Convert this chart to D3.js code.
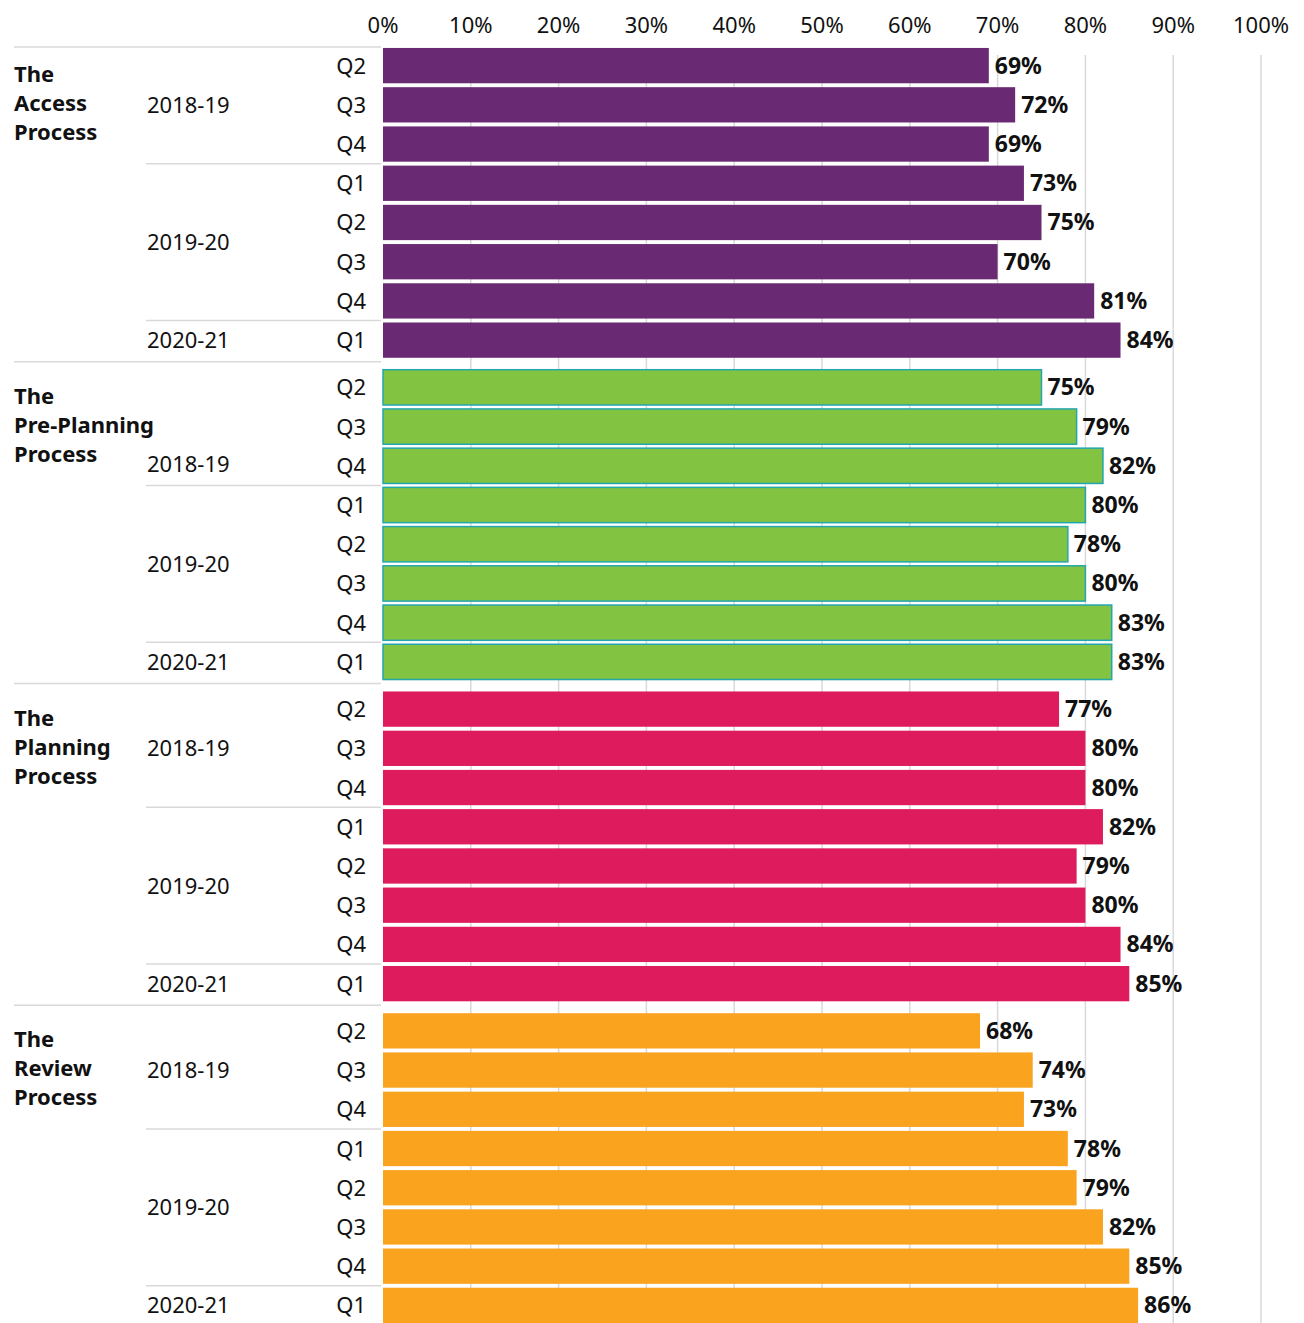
<!DOCTYPE html>
<html><head><meta charset="utf-8">
<script src="https://cdn.jsdelivr.net/npm/d3@7"></script>
<style>
body{margin:0;background:#fff;}
text{font-family:"Noto Sans",sans-serif;fill:#111;}
</style></head>
<body><svg id="c" width="1304" height="1323"></svg>
<script>
const processes = ["The Access Process","The Pre-Planning Process","The Planning Process","The Review Process"];
const processLines = [["The","Access","Process"],["The","Pre-Planning","Process"],["The","Planning","Process"],["The","Review","Process"]];
const quarters = ["Q2","Q3","Q4","Q1","Q2","Q3","Q4","Q1"];
const years = ["2018-19","2019-20","2020-21"];
const yearOfRow = [0,0,0,1,1,1,1,2];
const accessValues = [69,72,69,73,75,70,81,84];
const prePlanningValues = [75,79,82,80,78,80,83,83];
const planningValues = [77,80,80,82,79,80,84,85];
const reviewValues = [68,74,73,78,79,82,85,86];
const seriesValues = [accessValues,prePlanningValues,planningValues,reviewValues];
const colors = ["#6a2a73","#82c341","#de1b5d","#f9a31f"];
const strokes = [null,"#23a7ae",null,null];
const ticks = [0,10,20,30,40,50,60,70,80,90,100];

const svg = d3.select("#c");
const x = d3.scaleLinear().domain([0,100]).range([383,1261]);
const gy = d3.scaleBand().domain(processes).range([40,1327]);

// gridlines
svg.append("g").selectAll("line").data(ticks.slice(1)).join("line")
  .attr("x1",d=>x(d)).attr("x2",d=>x(d)).attr("y1",55).attr("y2",1323)
  .attr("stroke","#d9d9d9").attr("stroke-width",1.5);

// top axis labels
svg.append("g").selectAll("text").data(ticks).join("text")
  .attr("x",d=>x(d)).attr("y",33).attr("text-anchor","middle")
  .style("font-size","22px").text(d=>d+"%");

// top line
svg.append("line").attr("x1",14).attr("x2",381).attr("y1",47).attr("y2",47)
  .attr("stroke","#d9d9d9").attr("stroke-width",1.5);

processes.forEach((p,gi)=>{
  const top = gy(p);
  const ry = d3.scaleBand().domain(d3.range(8)).range([top+6, top+gy.bandwidth()-2]).paddingInner(0.1).paddingOuter(0.05);
  const g = svg.append("g");
  const vals = seriesValues[gi];
  g.selectAll("rect").data(vals).join("rect")
    .attr("x",x(0)).attr("y",(d,i)=>ry(i))
    .attr("width",d=>x(d)-x(0)).attr("height",ry.bandwidth())
    .attr("fill",colors[gi])
    .attr("stroke",strokes[gi]||"none").attr("stroke-width",1.5);
  g.selectAll("text.v").data(vals).join("text").attr("class","v")
    .attr("x",d=>x(d)+6).attr("y",(d,i)=>ry(i)+ry.bandwidth()/2+8)
    .style("font-size","23px").style("font-weight","bold").text(d=>d+"%");
  g.selectAll("text.q").data(quarters).join("text").attr("class","q")
    .attr("x",366).attr("y",(d,i)=>ry(i)+ry.bandwidth()/2+8).attr("text-anchor","end")
    .style("font-size","22px").text(d=>d);
  // process label
  const pl = g.append("text").attr("x",14).attr("y",top+42)
    .style("font-size","22px").style("font-weight","bold");
  pl.selectAll("tspan").data(processLines[gi]).join("tspan")
    .attr("x",14).attr("dy",(d,i)=>i?29:0).text(d=>d);
  const plBox = pl.node().getBBox();
  years.forEach((yr,yi)=>{
    const rows = d3.range(8).filter(i=>yearOfRow[i]===yi);
    const y0 = ry(rows[0]), y1 = ry(rows[rows.length-1])+ry.bandwidth();
    let ty = (y0+y1)/2+8;
    // avoid collision with a wide process label
    if(plBox.x+plBox.width>145 && ty-16<plBox.y+plBox.height && ty>plBox.y){
      ty = plBox.y+plBox.height+4;
    }
    g.append("text").attr("x",147).attr("y",ty)
      .style("font-size","22px").text(yr);
    if(yi<years.length-1){
      const sep = y1 + (ry.step()-ry.bandwidth())/2;
      g.append("line").attr("x1",146).attr("x2",381).attr("y1",sep).attr("y2",sep)
        .attr("stroke","#d9d9d9").attr("stroke-width",1.5);
    }
  });
  if(gi<processes.length-1){
    const by = top+gy.bandwidth();
    svg.append("line").attr("x1",14).attr("x2",381).attr("y1",by).attr("y2",by)
      .attr("stroke","#d9d9d9").attr("stroke-width",1.5);
  }
});
</script></body></html>
